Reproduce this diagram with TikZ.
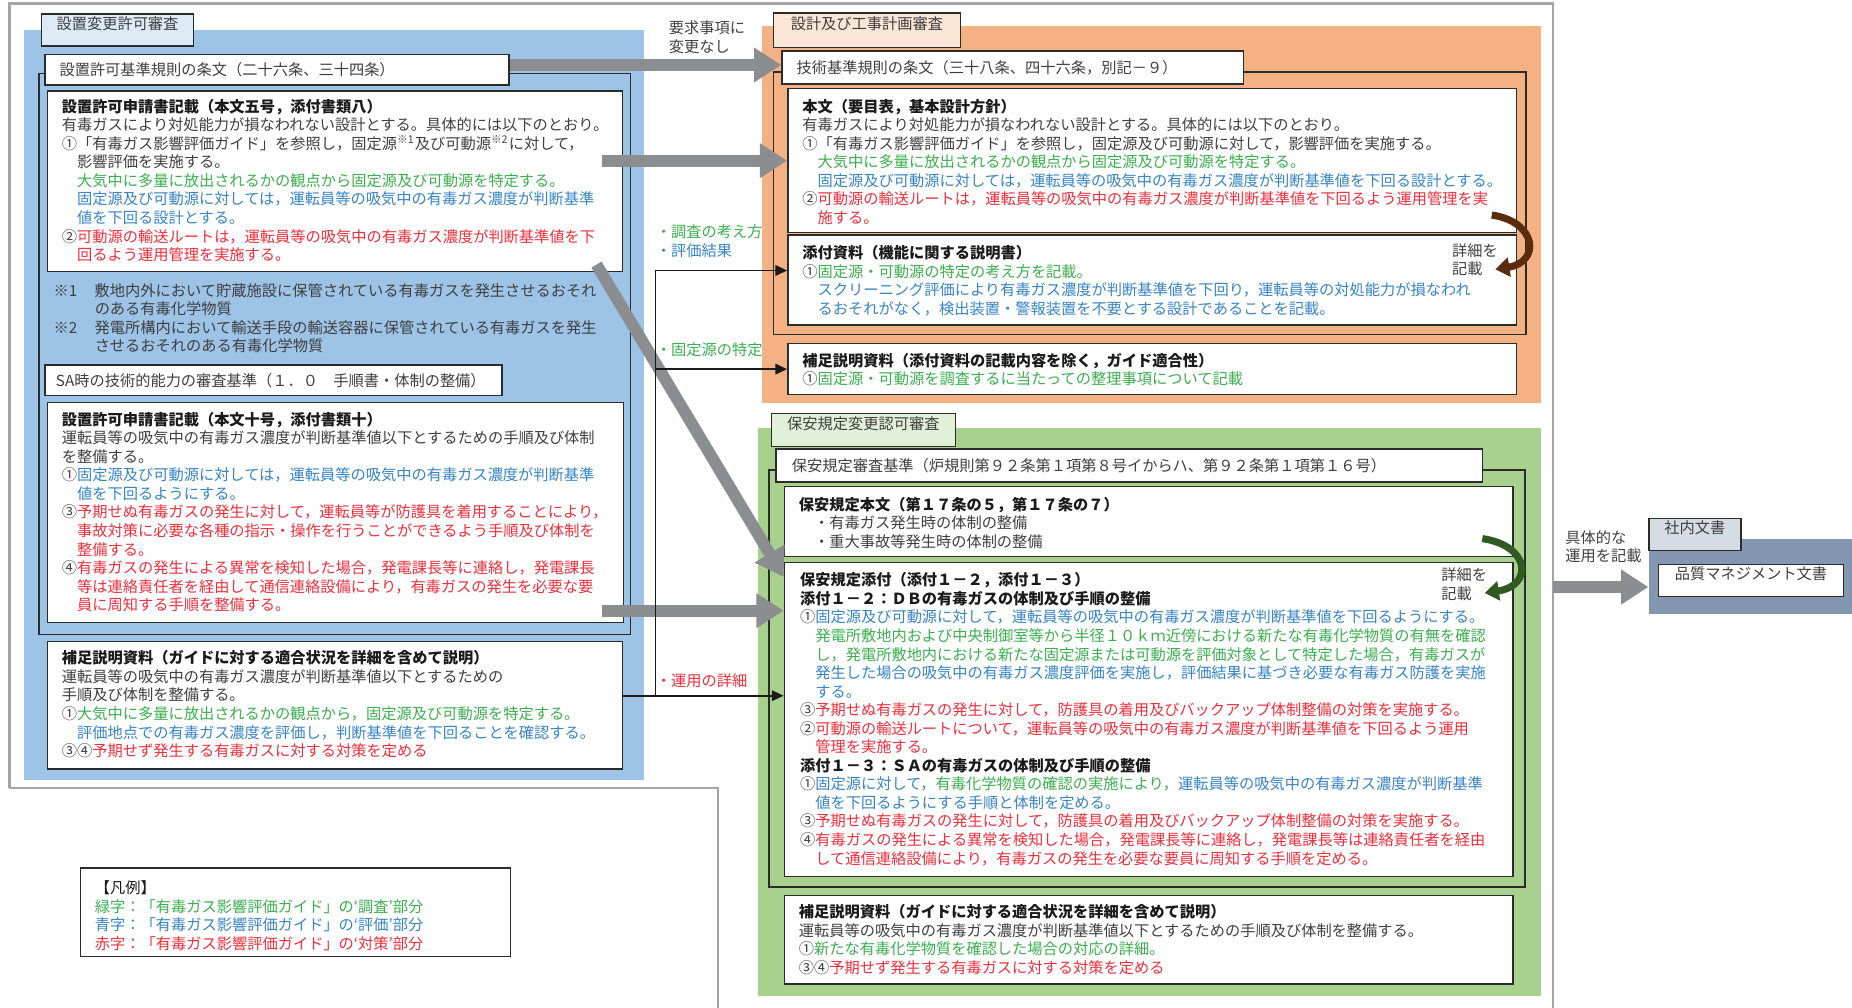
\documentclass[tikz,border=0pt]{standalone}
\usepackage{fontspec}
\setmainfont{Noto Sans CJK JP}
\usepackage{xcolor}
\usetikzlibrary{arrows.meta,positioning,calc,fit}
\definecolor{Ink}{HTML}{1A1A1A}
\definecolor{Body}{HTML}{3F3F3F}
\definecolor{Edge}{HTML}{2B2B2B}
\definecolor{Frame}{HTML}{A5A5A8}
\definecolor{Shaft}{HTML}{8C8D90}
\definecolor{BlueBg}{HTML}{9DC3E6}
\definecolor{BlueTab}{HTML}{DEEBF7}
\definecolor{OrangeBg}{HTML}{F4B183}
\definecolor{OrangeTab}{HTML}{FBE5D6}
\definecolor{GreenBg}{HTML}{A9D18E}
\definecolor{GreenTab}{HTML}{E2F0D9}
\definecolor{SlateBg}{HTML}{8497B0}
\definecolor{SlateTab}{HTML}{D6DCE4}
\definecolor{Chosa}{HTML}{3BAF4F}
\definecolor{Hyoka}{HTML}{3784C6}
\definecolor{Taisaku}{HTML}{EF2F3C}
\definecolor{Brown}{HTML}{5B2B0D}
\definecolor{Leaf}{HTML}{2F5A20}
\newcommand{\gtxt}[1]{\textcolor{Chosa}{#1}}
\newcommand{\btxt}[1]{\textcolor{Hyoka}{#1}}
\newcommand{\rtxt}[1]{\textcolor{Taisaku}{#1}}
\newcommand{\ttl}[1]{{\bfseries\color{Ink}#1}}
\newcommand{\indt}{\hspace*{1em}}
\newcommand{\jpsize}{\fontsize{6.45}{7.85}\selectfont}
\tikzset{
  region/.style={inner sep=0pt,draw=none},
  tab/.style={draw=Edge,line width=0.6pt,inner sep=0pt,font=\jpsize,text=Body},
  box/.style={draw=Edge,fill=white,line width=0.6pt,inner sep=0pt,font=\jpsize,text=Body},
  frame/.style={draw=Edge,line width=0.6pt},
  txt/.style={anchor=north west,inner sep=0pt,align=left,font=\jpsize,text=Body},
  bigarr/.style={draw=Shaft,line width=5pt,-{Triangle[length=11.5pt,width=14pt]}},
  thinarr/.style={draw=Ink,line width=0.8pt,-{Triangle[length=5pt,width=4.5pt]}},
  curl/.style={line width=3pt,-{Triangle[length=6pt,width=8pt]}}
}

\begin{document}
\begin{tikzpicture}[x=0.5pt,y=-0.5pt]
  \useasboundingbox (0,0) rectangle (1568,853);
  \draw[Frame,line width=1.1pt] (8,667) -- (8,3) -- (1315,3) -- (1315,853);
  \draw[Frame,line width=1.1pt] (8,667) -- (608,667) -- (608,853);

  \node[region,fill=BlueBg,fit={(20,25) (545,660)}] (henko) {};
  \node[region,fill=OrangeBg,fit={(645,22) (1305,341)}] (sekkei) {};
  \node[region,fill=GreenBg,fit={(642,362) (1305,843)}] (hoan) {};
  \node[region,fill=SlateBg,fit={(1396,456) (1568,520)}] (shanai) {};

  \draw[frame] (33,62) rectangle (534,537);
  \draw[frame] (655,61) rectangle (1292,283);
  \draw[frame] (651,398) rectangle (1291,751);

  \node[tab,fill=BlueTab,fit={(35,12) (164,39)}] (henkotab) {設置変更許可審査};
  \node[tab,fill=OrangeTab,fit={(655,11) (813,40)}] (sekkeitab) {設計及び工事計画審査};
  \node[tab,fill=GreenTab,fit={(653,350) (809,378)}] (hoantab) {保安規定変更認可審査};
  \node[tab,fill=SlateTab,fit={(1396,439) (1474,466)}] (shanaitab) {社内文書};

  \node[box,fit={(38,46) (431,72)}] (kijun) {};
  \node[txt,anchor=west] at (50,59) {設置許可基準規則の条文（二十六条、三十四条）};
  \node[box,fit={(40,77) (527,230)}] (honbun5) {};
  \node[box,fit={(38,309) (425,335)}] (sakijun) {};
  \node[txt,anchor=west] at (47,322) {SA時の技術的能力の審査基準（１．０　手順書・体制の整備）};
  \node[box,fit={(40,341) (528,527)}] (honbun10) {};
  \node[box,fit={(40,543) (527,651)}] (hosoku1) {};

  \node[box,fit={(662,43) (1053,71)}] (gijutsu) {};
  \node[txt,anchor=west] at (674,57) {技術基準規則の条文（三十八条、四十六条，別記－９）};
  \node[box,fit={(667,75) (1284,197)}] (honbun) {};
  \node[box,fit={(667,199) (1284,275)}] (tenpushiryo) {};
  \node[box,fit={(667,291) (1284,334)}] (hosoku2) {};

  \node[box,fit={(657,380) (1255,408)}] (hoankijun) {};
  \node[txt,anchor=west] at (670,394) {保安規定審査基準（炉規則第９２条第１項第８号イからハ、第９２条第１項第１６号）};
  \node[box,fit={(664,412) (1281,471)}] (hoanhonbun) {};
  \node[box,fit={(664,476) (1281,742)}] (tenpu) {};
  \node[box,fit={(664,758) (1281,833)}] (hosoku3) {};

  \node[box,fit={(1404,478) (1561,505)}] (qms) {品質マネジメント文書};
  \node[box,fit={(68,735) (432,810)}] (hanrei) {};

  \node[txt] at (52,83.5) {\ttl{設置許可申請書記載（本文五号，添付書類八）}\\
    有毒ガスにより対処能力が損なわれない設計とする。具体的には以下のとおり。\\
    ①「有毒ガス影響評価ガイド」を参照し，固定源\textsuperscript{※1}及び可動源\textsuperscript{※2}に対して，\\
    \indt 影響評価を実施する。\\
    \indt\gtxt{大気中に多量に放出されるかの観点から固定源及び可動源を特定する。}\\
    \indt\btxt{固定源及び可動源に対しては，運転員等の吸気中の有毒ガス濃度が判断基準}\\
    \indt\btxt{値を下回る設計とする。}\\
    ②\rtxt{可動源の輸送ルートは，運転員等の吸気中の有毒ガス濃度が判断基準値を下}\\
    \indt\rtxt{回るよう運用管理を実施する。}};
  \node[txt] at (45,239.5) {\makebox[2.7em][l]{※1}敷地内外において貯蔵施設に保管されている有毒ガスを発生させるおそれ\\
    \hspace*{2.7em}のある有毒化学物質\\
    \makebox[2.7em][l]{※2}発電所構内において輸送手段の輸送容器に保管されている有毒ガスを発生\\
    \hspace*{2.7em}させるおそれのある有毒化学物質};
  \node[txt] at (52,348.5) {\ttl{設置許可申請書記載（本文十号，添付書類十）}\\
    運転員等の吸気中の有毒ガス濃度が判断基準値以下とするための手順及び体制\\
    を整備する。\\
    ①\btxt{固定源及び可動源に対しては，運転員等の吸気中の有毒ガス濃度が判断基準}\\
    \indt\btxt{値を下回るようにする。}\\
    ③\rtxt{予期せぬ有毒ガスの発生に対して，運転員等が防護具を着用することにより，}\\
    \indt\rtxt{事故対策に必要な各種の指示・操作を行うことができるよう手順及び体制を}\\
    \indt\rtxt{整備する。}\\
    ④\rtxt{有毒ガスの発生による異常を検知した場合，発電課長等に連絡し，発電課長}\\
    \indt\rtxt{等は連絡責任者を経由して通信連絡設備により，有毒ガスの発生を必要な要}\\
    \indt\rtxt{員に周知する手順を整備する。}};
  \node[txt] at (52,550.5) {\ttl{補足説明資料（ガイドに対する適合状況を詳細を含めて説明）}\\
    運転員等の吸気中の有毒ガス濃度が判断基準値以下とするための\\
    手順及び体制を整備する。\\
    ①\gtxt{大気中に多量に放出されるかの観点から，固定源及び可動源を特定する。}\\
    \indt\btxt{評価地点での有毒ガス濃度を評価し，判断基準値を下回ることを確認する。}\\
    ③④\rtxt{予期せず発生する有毒ガスに対する対策を定める}};

  \node[txt] at (679,83.5) {\ttl{本文（要目表，基本設計方針）}\\
    有毒ガスにより対処能力が損なわれない設計とする。具体的には以下のとおり。\\
    ①「有毒ガス影響評価ガイド」を参照し，固定源及び可動源に対して，影響評価を実施する。\\
    \indt\gtxt{大気中に多量に放出されるかの観点から固定源及び可動源を特定する。}\\
    \indt\btxt{固定源及び可動源に対しては，運転員等の吸気中の有毒ガス濃度が判断基準値を下回る設計とする。}\\
    ②\rtxt{可動源の輸送ルートは，運転員等の吸気中の有毒ガス濃度が判断基準値を下回るよう運用管理を実}\\
    \indt\rtxt{施する。}};
  \node[txt] at (679,207.5) {\ttl{添付資料（機能に関する説明書）}\\
    ①\gtxt{固定源・可動源の特定の考え方を記載。}\\
    \indt\btxt{スクリーニング評価により有毒ガス濃度が判断基準値を下回り，運転員等の対処能力が損なわれ}\\
    \indt\btxt{るおそれがなく，検出装置・警報装置を不要とする設計であることを記載。}};
  \node[txt] at (679,298.5) {\ttl{補足説明資料（添付資料の記載内容を除く，ガイド適合性）}\\
    ①\gtxt{固定源・可動源を調査するに当たっての整理事項について記載}};

  \node[txt] at (676,420.5) {\ttl{保安規定本文（第１７条の５，第１７条の７）}\\
    \indt・有毒ガス発生時の体制の整備\\
    \indt・重大事故等発生時の体制の整備};
  \node[txt] at (677,484.5) {\ttl{保安規定添付（添付１－２，添付１－３）}\\
    \ttl{添付１－２：ＤＢの有毒ガスの体制及び手順の整備}\\
    ①\btxt{固定源及び可動源に対して，運転員等の吸気中の有毒ガス濃度が判断基準値を下回るようにする。}\\
    \indt\gtxt{発電所敷地内および中央制御室等から半径１０ｋｍ近傍における新たな有毒化学物質の有無を確認}\\
    \indt\gtxt{し，発電所敷地内における新たな固定源または可動源を評価対象として特定した場合，有毒ガスが}\\
    \indt\btxt{発生した場合の吸気中の有毒ガス濃度評価を実施し，評価結果に基づき必要な有毒ガス防護を実施}\\
    \indt\btxt{する。}\\
    ③\rtxt{予期せぬ有毒ガスの発生に対して，防護具の着用及びバックアップ体制整備の対策を実施する。}\\
    ②\rtxt{可動源の輸送ルートについて，運転員等の吸気中の有毒ガス濃度が判断基準値を下回るよう運用}\\
    \indt\rtxt{管理を実施する。}\\
    \ttl{添付１－３：ＳＡの有毒ガスの体制及び手順の整備}\\
    ①\btxt{固定源に対して，}\gtxt{有毒化学物質の確認の実施により，}\btxt{運転員等の吸気中の有毒ガス濃度が判断基準}\\
    \indt\btxt{値を下回るようにする手順と体制を定める。}\\
    ③\rtxt{予期せぬ有毒ガスの発生に対して，防護具の着用及びバックアップ体制整備の対策を実施する。}\\
    ④\rtxt{有毒ガスの発生による異常を検知した場合，発電課長等に連絡し，発電課長等は連絡責任者を経由}\\
    \indt\rtxt{して通信連絡設備により，有毒ガスの発生を必要な要員に周知する手順を定める。}};
  \node[txt] at (676,765.5) {\ttl{補足説明資料（ガイドに対する適合状況を詳細を含めて説明）}\\
    運転員等の吸気中の有毒ガス濃度が判断基準値以下とするための手順及び体制を整備する。\\
    ①\gtxt{新たな有毒化学物質を確認した場合の対応の詳細。}\\
    ③④\rtxt{予期せず発生する有毒ガスに対する対策を定める}};

  \node[txt] at (80,745.5) {\textcolor{Ink}{【凡例】}\\
    \gtxt{緑字：「有毒ガス影響評価ガイド」の‘調査’部分}\\
    \btxt{青字：「有毒ガス影響評価ガイド」の‘評価’部分}\\
    \rtxt{赤字：「有毒ガス影響評価ガイド」の‘対策’部分}};

  \coordinate (a2) at (510,136);
  \coordinate (a3) at (505,224);
  \coordinate (a4) at (510,517);
  \coordinate (a5) at (1315,497);
  \draw[bigarr] ([yshift=2pt]kijun.east) -- ([yshift=1pt]gijutsu.west);
  \draw[bigarr] (a2) -- (honbun.west);
  \draw[bigarr] (a3) -- ([yshift=-6.5pt]tenpu.north west);
  \draw[bigarr] (a4) -- (a4 -| tenpu.west);
  \draw[bigarr] (a5) -- (a5 -| shanai.west);
  \node[txt] at (566,17.5) {要求事項に\\変更なし};
  \node[txt] at (1325,448.5) {具体的な\\運用を記載};

  \coordinate (split) at (555,229);
  \coordinate (unyo) at (555,589);
  \draw[Ink,line width=0.8pt] (split) -- (unyo);
  \draw[thinarr] (split) -- (split -| tenpushiryo.west);
  \draw[thinarr] (split |- hosoku2.west) -- (hosoku2.west);
  \draw[thinarr] (unyo -| hosoku1.east) -- (unyo -| tenpu.west);
  \node[txt,anchor=west] at (555,196) {\gtxt{・調査の考え方}};
  \node[txt,anchor=west] at (555,212) {\btxt{・評価結果}};
  \node[txt,anchor=west] at (555,296) {\gtxt{・固定源の特定}};
  \node[txt,anchor=west] at (555,576) {\rtxt{・運用の詳細}};

  \coordinate (c1s) at (1263,182);
  \coordinate (c1e) at (1266,228);
  \draw[curl,Brown] (c1s) .. controls (1302,188) and (1304,222) .. (c1e);
  \node[txt] at (1229,205.5) {詳細を\\記載};
  \coordinate (c2s) at (1255,456);
  \coordinate (c2e) at (1257,502);
  \draw[curl,Leaf] (c2s) .. controls (1296,462) and (1298,496) .. (c2e);
  \node[txt] at (1220,480.5) {詳細を\\記載};
\end{tikzpicture}
\end{document}
